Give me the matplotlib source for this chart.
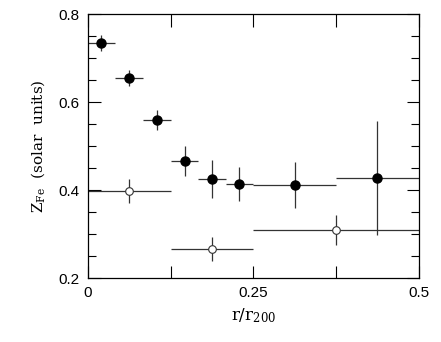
import numpy as np
import matplotlib
matplotlib.use('Agg')
import matplotlib.pyplot as plt
from matplotlib.ticker import MultipleLocator

plt.rcParams['mathtext.fontset'] = 'dejavuserif'

# filled points (inner bins)
r_fill = [0.02, 0.062, 0.104, 0.146, 0.187, 0.228, 0.313, 0.437]
r_lo_fill = [0.0, 0.041, 0.083, 0.125, 0.166, 0.208, 0.25, 0.375]
r_hi_fill = [0.041, 0.083, 0.125, 0.166, 0.208, 0.25, 0.375, 0.5]
z_fill = [0.734, 0.655, 0.559, 0.466, 0.425, 0.413, 0.411, 0.427]
zerr_fill = [0.019, 0.018, 0.022, 0.034, 0.043, 0.039, 0.052, 0.13]

# open points (wide bins)
r_open = [0.062, 0.187, 0.375]
r_lo_open = [0.0, 0.125, 0.25]
r_hi_open = [0.125, 0.25, 0.5]
z_open = [0.398, 0.266, 0.309]
zerr_open = [0.027, 0.027, 0.035]

fig = plt.figure(figsize=(4.41, 3.42), dpi=100)
ax = fig.add_axes([0.1995, 0.187, 0.7505, 0.772])

xerr_f = [np.array(r_fill) - np.array(r_lo_fill), np.array(r_hi_fill) - np.array(r_fill)]
xerr_o = [np.array(r_open) - np.array(r_lo_open), np.array(r_hi_open) - np.array(r_open)]

ax.errorbar(r_open, z_open, xerr=xerr_o, yerr=zerr_open, fmt='o', ms=5.5,
            mfc='white', mec='#333333', mew=0.8, ecolor='#333333', elinewidth=0.9, capsize=0)
ax.errorbar(r_fill, z_fill, xerr=xerr_f, yerr=zerr_fill, fmt='o', ms=6.5,
            mfc='black', mec='black', ecolor='#333333', elinewidth=0.9, capsize=0)

ax.set_xlim(0, 0.5)
ax.set_ylim(0.2, 0.8)
ax.xaxis.set_major_locator(MultipleLocator(0.25))
ax.xaxis.set_minor_locator(MultipleLocator(0.125))
ax.yaxis.set_major_locator(MultipleLocator(0.2))
ax.yaxis.set_minor_locator(MultipleLocator(0.05))
ax.xaxis.set_major_formatter(plt.FuncFormatter(lambda v, p: '%g' % round(v, 3)))
ax.yaxis.set_major_formatter(plt.FuncFormatter(lambda v, p: '%.1f' % v))
ax.tick_params(which='both', direction='in', top=True, right=True, width=0.8)
ax.tick_params(which='major', length=9, labelsize=11, pad=6)
ax.tick_params(which='minor', length=6)
ax.tick_params(axis='x', which='minor', length=9)
for lbl in ax.get_xticklabels() + ax.get_yticklabels():
    lbl.set_family('Liberation Sans')
for s in ax.spines.values():
    s.set_linewidth(0.9)

ax.set_xlabel(r'r/r$_{200}$', fontsize=12, family='DejaVu Serif')
ax.set_ylabel(r'Z$_{\rm Fe}$  (solar  units)', fontsize=11, family='DejaVu Serif', labelpad=8)

fig.savefig('out.png', dpi=100)
